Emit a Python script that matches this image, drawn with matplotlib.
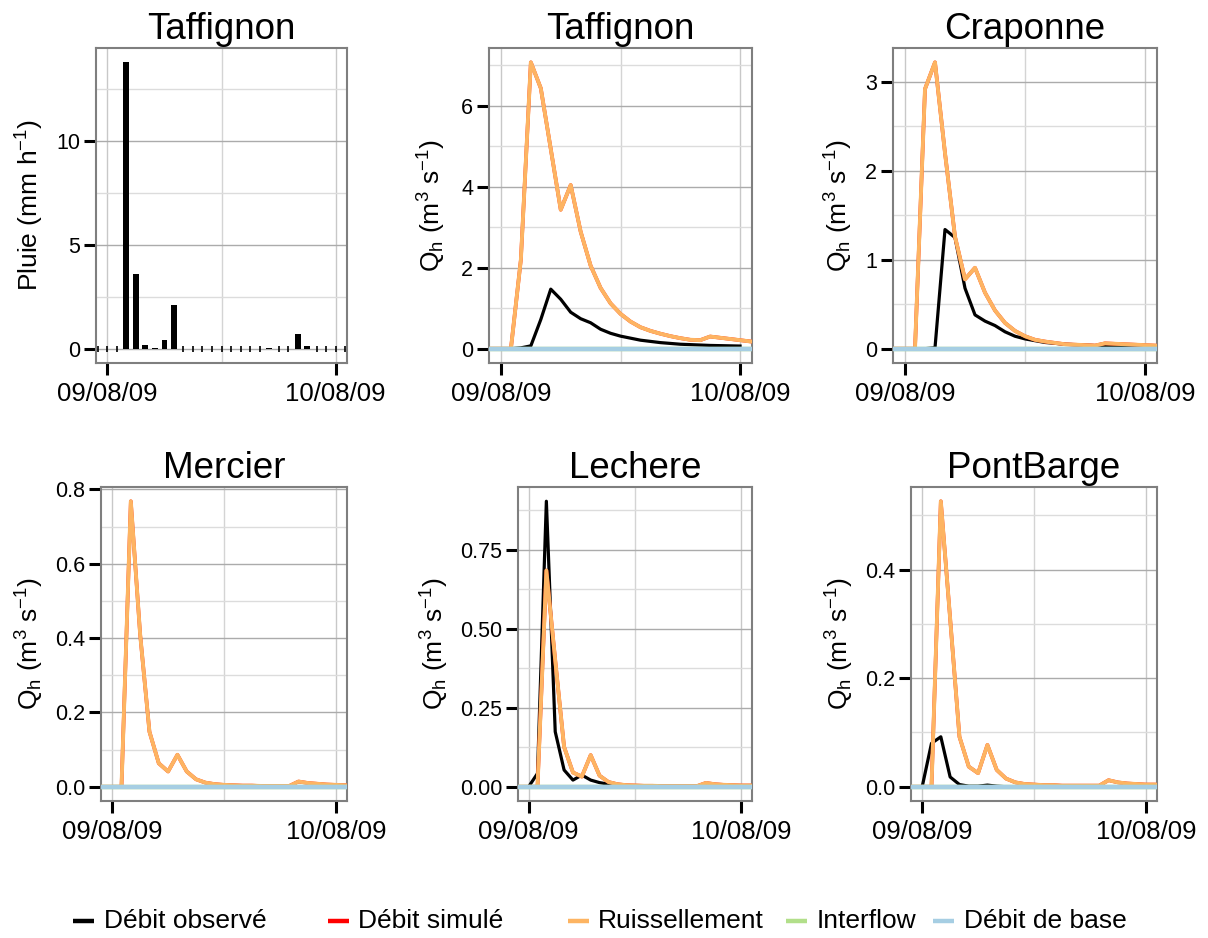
import numpy as np
import matplotlib
matplotlib.use("Agg")
import matplotlib.pyplot as plt
from matplotlib.lines import Line2D
from matplotlib.ticker import FixedLocator

plt.rcParams['font.family'] = ['Liberation Sans', 'DejaVu Sans']
plt.rcParams['mathtext.fontset'] = 'custom'
plt.rcParams['mathtext.rm'] = 'Liberation Sans'
plt.rcParams['mathtext.it'] = 'Liberation Sans:italic'

# ---------------- data ----------------
x_tick_hours = [0, 24]
x_tick_labels = ["09/08/09", "10/08/09"]

rain_hours = list(range(-1, 26))
rain_values = [0, 0, 0, 13.77, 3.57, 0.18, 0.02, 0.40, 2.08,
               0, 0, 0, 0, 0, 0, 0, 0, 0,
               0.01, 0, 0, 0.69, 0.13, 0, 0, 0, 0]

obs_hours = list(range(0, 25))
sim_hours = list(range(-2, 27))

stations = ["Taffignon", "Craponne", "Mercier", "Lechere", "PontBarge"]

observed = {
    "Taffignon": [0, 0, 0.02, 0.07, 0.72, 1.47, 1.22, 0.90, 0.74, 0.64, 0.48, 0.38, 0.31,
                  0.26, 0.21, 0.18, 0.15, 0.13, 0.11, 0.10, 0.09, 0.08, 0.075, 0.07, 0.065],
    "Craponne": [0, 0, 0, 0.01, 1.34, 1.25, 0.68, 0.38, 0.31, 0.26, 0.19, 0.14, 0.11,
                 0.09, 0.07, 0.06, 0.05, 0.045, 0.04, 0.035, 0.03, 0.03, 0.025, 0.025, 0.02],
    "Mercier": None,
    "Lechere": [0, 0.042, 0.903, 0.174, 0.053, 0.021, 0.037, 0.021, 0.013, 0.008, 0.005, 0.003,
                0.002, 0.001, 0.001, 0.001, 0.001, 0.001, 0.001, 0.001, 0.001, 0.001, 0.001, 0.001, 0.001],
    "PontBarge": [0, 0.080, 0.092, 0.018, 0.004, 0.001, 0.001, 0.003, 0.001, 0, 0, 0, 0,
                  0, 0, 0, 0, 0, 0, 0, 0, 0, 0, 0, 0],
}

# runoff (ruissellement), hours -2..26
runoff = {
    "Taffignon": [0, 0, 0, 0, 2.20, 7.07, 6.43, 4.93, 3.43, 4.04, 2.89, 2.05, 1.50, 1.12, 0.86,
                  0.67, 0.53, 0.44, 0.37, 0.31, 0.26, 0.22, 0.21, 0.30, 0.27, 0.24, 0.21, 0.18, 0.16],
    "Craponne": [0, 0, 0, 0, 2.92, 3.22, 2.20, 1.26, 0.78, 0.91, 0.63, 0.43, 0.29, 0.20, 0.14,
                 0.10, 0.08, 0.065, 0.05, 0.045, 0.04, 0.035, 0.06, 0.055, 0.05, 0.045, 0.04, 0.035, 0.03],
    "Mercier": [0, 0, 0, 0, 0.768, 0.410, 0.148, 0.063, 0.041, 0.086, 0.041, 0.020, 0.011, 0.007,
                0.005, 0.004, 0.003, 0.003, 0.002, 0.002, 0.002, 0.002, 0.014, 0.010, 0.008, 0.006,
                0.005, 0.004, 0.003],
    "Lechere": [0, 0, 0, 0, 0.684, 0.400, 0.126, 0.045, 0.032, 0.100, 0.035, 0.015, 0.008, 0.005,
                0.004, 0.003, 0.003, 0.002, 0.002, 0.002, 0.002, 0.002, 0.012, 0.008, 0.006, 0.005,
                0.004, 0.004, 0.003],
    "PontBarge": [0, 0, 0, 0, 0.526, 0.310, 0.092, 0.037, 0.025, 0.077, 0.031, 0.015, 0.008, 0.005,
                  0.004, 0.003, 0.003, 0.002, 0.002, 0.002, 0.002, 0.002, 0.012, 0.008, 0.006, 0.005,
                  0.004, 0.004, 0.003],
}
interflow_values = [0] * len(sim_hours)
baseflow_values = [0] * len(sim_hours)

y_ticks = {
    "rain": ([0, 5, 10], ["0", "5", "10"], [2.5, 7.5, 12.5]),
    "Taffignon": ([0, 2, 4, 6], ["0", "2", "4", "6"], [1, 3, 5, 7]),
    "Craponne": ([0, 1, 2, 3], ["0", "1", "2", "3"], [0.5, 1.5, 2.5]),
    "Mercier": ([0, 0.2, 0.4, 0.6, 0.8], ["0.0", "0.2", "0.4", "0.6", "0.8"], [0.1, 0.3, 0.5, 0.7]),
    "Lechere": ([0, 0.25, 0.5, 0.75], ["0.00", "0.25", "0.50", "0.75"], [0.125, 0.375, 0.625, 0.875]),
    "PontBarge": ([0, 0.2, 0.4], ["0.0", "0.2", "0.4"], [0.1, 0.3, 0.5]),
}

legend_labels = ["Débit observé", "Débit simulé", "Ruissellement", "Interflow", "Débit de base"]
colors = {"obs": "black", "sim": "#FF0000", "run": "#FDB462", "inter": "#B2DF8A", "base": "#A6CEE3"}

# ---------------- layout ----------------
W, H = 1208, 938
fig = plt.figure(figsize=(W / 100, H / 100), dpi=100)

def ax_px(l, t, r, b):
    return fig.add_axes([l / W, 1 - b / H, (r - l) / W, (b - t) / H])

ax_rain = ax_px(96, 48, 347, 363)
ax_taf = ax_px(489, 48, 752, 363)
ax_cra = ax_px(893, 48, 1157, 363)
ax_mer = ax_px(101, 487, 347, 801)
ax_lec = ax_px(518, 487, 752, 801)
ax_pon = ax_px(911, 487, 1157, 801)

xlo = min(obs_hours) - 0.05 * (max(obs_hours) - min(obs_hours))
xhi = max(obs_hours) + 0.05 * (max(obs_hours) - min(obs_hours))

def style(ax, key, title, ylabel, ymax, labelpad=6):
    ax.set_xlim(xlo, xhi)
    ax.set_ylim(-0.05 * ymax, 1.05 * ymax)
    major, labels, minor = y_ticks[key]
    ax.yaxis.set_major_locator(FixedLocator(major))
    ax.set_yticklabels(labels)
    ax.yaxis.set_minor_locator(FixedLocator(minor))
    ax.xaxis.set_major_locator(FixedLocator(x_tick_hours))
    ax.set_xticklabels(x_tick_labels)
    ax.xaxis.set_minor_locator(FixedLocator([12]))
    ax.grid(True, which='major', axis='y', color='#ABABAB', lw=1.0, zorder=0)
    ax.grid(True, which='minor', axis='y', color='#DCDCDC', lw=1.0, zorder=0)
    ax.grid(True, which='major', axis='x', color='#C8C8C8', lw=1.0, zorder=0)
    ax.grid(True, which='minor', axis='x', color='#D4D4D4', lw=1.0, zorder=0)
    ax.set_axisbelow(True)
    ax.tick_params(which='major', length=8.5, width=2.2, color='black')
    ax.tick_params(which='minor', length=0)
    ax.tick_params(axis='x', labelsize=18.5, pad=5)
    ax.tick_params(axis='y', labelsize=15.5, pad=3)
    for s in ax.spines.values():
        s.set_color('#7F7F7F')
        s.set_linewidth(1.5)
    ax.set_title(title, fontsize=26.5, pad=6.5)
    ax.set_ylabel(ylabel, fontsize=19, labelpad=labelpad)

# rain panel
rain_arr = np.array(rain_values)
rh = np.array(rain_hours)
ax_rain.bar(rh, rain_arr, width=0.62, color='black', zorder=3)
zero = rain_arr == 0
ax_rain.plot(rh[zero], rain_arr[zero], ls='none', marker='|', ms=5, mew=1.2, color='black', zorder=3)
style(ax_rain, "rain", "Taffignon", r'Pluie (mm h$^{\mathrm{-1}}$)', max(rain_values), labelpad=7)

qlabel = r'Q$_{\mathrm{h}}$ (m$^{\mathrm{3}}$ s$^{\mathrm{-1}}$)'
panels = [(ax_taf, "Taffignon", 9), (ax_cra, "Craponne", 7), (ax_mer, "Mercier", 6),
          (ax_lec, "Lechere", 6), (ax_pon, "PontBarge", 6)]
for ax, st, lp in panels:
    obs = observed[st]
    run = np.array(runoff[st])
    sim = run + np.array(interflow_values) + np.array(baseflow_values)
    if obs is not None:
        ax.plot(obs_hours, obs, color=colors["obs"], lw=2.3, zorder=3)
    ax.plot(sim_hours, sim, color=colors["sim"], lw=2.6, zorder=4)
    ax.plot(sim_hours, run, color=colors["run"], lw=2.8, zorder=5)
    ax.plot(sim_hours, interflow_values, color=colors["inter"], lw=3.2, zorder=6)
    ax.plot(sim_hours, baseflow_values, color=colors["base"], lw=3.2, zorder=7)
    ymax = max(max(run), max(obs) if obs is not None else 0)
    style(ax, st, st, qlabel, ymax, labelpad=lp)

# legend (manual, bottom)
key_x = [73, 328, 568, 786, 933]
text_x = [104, 358, 598, 817, 964]
key_colors = [colors["obs"], colors["sim"], colors["run"], colors["inter"], colors["base"]]
ly = 1 - 921 / H
for kx, tx, c, lab in zip(key_x, text_x, key_colors, legend_labels):
    fig.add_artist(Line2D([kx / W, (kx + 21) / W], [ly, ly], color=c, lw=3.2,
                          transform=fig.transFigure, solid_capstyle='butt'))
    fig.text(tx / W, ly, lab, fontsize=19, va='center', ha='left')

fig.savefig("out.png", dpi=100)
